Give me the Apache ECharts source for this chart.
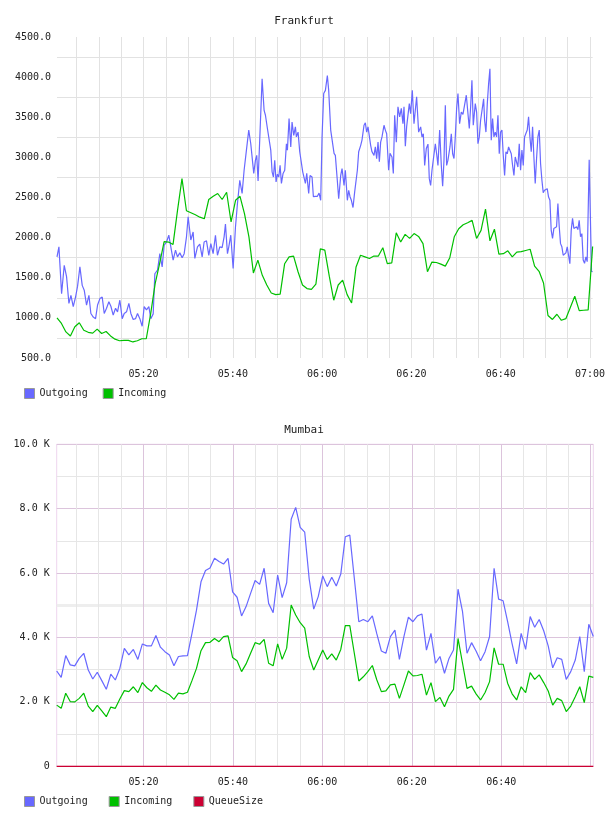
<!DOCTYPE html>
<html><head><meta charset="utf-8">
<script src="https://cdn.jsdelivr.net/npm/echarts@6/dist/echarts.min.js"></script>
<style>html,body{margin:0;padding:0;background:#fff}#c{width:608px;height:816px}</style>
</head><body><div id="c"></div>
<script>
// ---------- DATA ----------
// x values are minutes after 05:00
const X_START = 0.6, X_END = 120.6;
const TOP_X_LABELS = ['05:20','05:40','06:00','06:20','06:40','07:00'];
const BOTTOM_X_LABELS = ['05:20','05:40','06:00','06:20','06:40'];

// Frankfurt – Outgoing (irregular sample times, minutes after 05:00)
const FR_OUT_MIN = [0.6,1.03,1.63,2.22,2.75,3.27,3.72,4.24,4.76,5.21,5.73,6.25,6.70,7.22,7.75,8.19,8.72,9.24,9.69,10.21,10.73,11.18,11.70,12.22,12.67,13.19,13.72,14.16,14.68,15.21,15.66,16.18,16.70,17.15,17.67,18.19,18.64,19.16,19.68,20.13,20.65,21.18,21.62,22.15,22.52,23.12,23.64,24.16,24.61,25.13,25.65,26.10,26.62,27.15,27.59,28.12,28.64,29.09,29.61,29.98,30.58,31.10,31.48,32.07,32.59,33.12,33.56,34.09,34.61,35.06,35.58,36.10,36.55,37.07,37.59,38.04,38.34,38.79,39.09,39.53,40.06,40.58,41.03,41.55,
42.07,42.52,43.04,43.56,44.01,44.31,44.68,45.06,45.35,45.65,46.03,46.55,47.00,47.30,47.74,48.04,48.49,48.79,49.09,49.38,49.68,49.98,50.28,50.58,50.88,51.25,51.62,52.00,52.22,52.59,52.97,53.26,53.64,54.01,54.23,54.61,54.98,55.35,55.65,55.95,56.25,56.55,56.99,57.29,57.74,58.04,58.49,58.94,59.31,59.68,59.98,60.35,60.73,61.17,61.47,61.92,62.22,62.67,62.96,63.34,63.71,64.16,64.46,64.91,65.20,65.65,65.95,66.25,66.55,66.92,67.29,67.59,67.89,68.19,68.64,68.93,69.38,69.68,69.98,70.28,70.58,70.87,71.17,71.62,71.92,72.22,72.52,72.82,73.11,73.41,73.86,74.16,74.46,74.90,75.20,75.65,75.95,76.25,76.62,76.99,77.37,77.74,78.11,78.34,78.64,78.93,79.23,79.53,79.83,80.20,80.58,80.87,81.17,81.62,
82.07,82.37,82.67,82.97,83.34,83.71,84.01,84.31,84.61,84.91,85.36,85.65,85.95,86.33,86.70,87.00,87.30,87.60,87.89,88.19,88.64,88.94,89.24,89.54,89.83,90.13,90.43,90.80,91.18,91.55,91.92,92.30,92.67,92.97,93.27,93.56,93.86,94.31,94.61,94.91,95.21,95.50,95.80,96.18,96.40,96.70,97.00,97.30,97.59,97.89,98.19,98.49,98.79,99.09,99.39,99.68,99.98,100.28,100.58,100.88,101.18,101.47,101.77,102.07,102.37,102.67,102.97,103.26,103.56,103.86,104.16,104.46,104.76,105.06,105.35,105.65,105.95,106.25,106.55,106.85,107.15,107.44,107.74,108.04,108.34,108.64,108.94,109.24,109.53,109.83,110.13,110.43,110.73,111.03,111.32,111.62,111.92,112.22,112.52,112.82,113.12,113.41,113.71,114.01,114.31,114.61,114.91,115.20,115.50,115.80,116.10,116.40,116.70,117.00,117.29,117.59,117.89,118.19,118.49,118.79,119.09,119.38,119.83,120.35,120.6];
const FR_OUT = [1760,1885,1300,1655,1510,1180,1280,1140,1260,1395,1635,1405,1345,1160,1280,1055,1010,990,1160,1240,1260,1055,1120,1200,1145,1035,1120,1075,1220,990,1055,1075,1180,1055,980,990,1055,990,895,1140,1100,1140,990,1050,1550,1595,1800,1635,1905,1945,2030,1885,1720,1845,1760,1810,1750,1800,2010,2260,1970,2070,1740,1885,1920,1760,1945,1960,1780,1925,1800,2030,1780,1885,1875,2010,2170,1800,1885,2030,1615,2130,2425,2715,
2550,2840,3090,3340,3170,3150,2800,2965,3025,2705,3235,3980,3585,3525,3360,3340,3090,2820,2755,2965,2695,2790,2755,2900,2675,2800,2840,3170,3090,3485,3130,3440,3275,3380,3255,3315,3070,3050,2820,2840,2675,2800,2550,2775,2755,2510,2515,2515,2555,2465,3255,3795,3835,4020,3835,3340,3320,3050,3025,2755,2485,2775,2860,2650,2840,2465,2590,2510,2465,2375,2570,2550,2840,3070,3150,3215,3400,3430,3315,3380,3390,3150,3070,3025,3130,2985,3190,2945,3190,3255,3400,3340,3295,2840,3050,3005,2800,3525,3190,3630,3505,3610,3420,3630,3140,3380,3400,3670,3545,3835,3420,3400,3755,3315,
3380,3255,3295,2900,3110,3165,2735,2650,2840,2860,3170,3045,2900,3340,2900,2640,2965,3650,2900,2965,3130,3295,3045,2985,3255,3610,3795,3420,3565,3535,3555,3775,3755,3360,3630,3960,3400,3670,3565,3170,3255,3460,3440,3730,3460,3315,3670,3920,4105,3215,3485,3255,3315,3255,3525,3045,3315,3340,3025,2775,3070,3045,3130,3150,3045,2900,2775,3005,3025,2880,3170,2840,3090,2900,3255,3235,3340,3505,3255,3070,3380,3005,2675,2985,3255,3340,2920,2715,2560,2590,2580,2610,2505,2465,2090,1990,2115,2135,2135,2425,2135,1925,1885,1780,1780,1810,1885,1780,1675,2090,2240,2115,2115,2135,2100,2215,2010,2050,1720,1680,1760,1700,2970,1580,1575];

// Frankfurt – Incoming (one sample per minute from 05:00:36)
const FR_IN = [1000,930,825,775,890,940,845,820,810,860,805,830,775,735,715,720,720,700,715,740,740,1055,1430,1680,1950,1945,1915,2340,2735,2335,2310,2285,2255,2235,2475,2515,2550,2475,2565,2195,2465,
2515,2300,2010,1560,1720,1530,1410,1310,1290,1295,1675,1760,1770,1575,1410,1365,1355,1420,1860,1845,1520,1220,1410,1470,1290,1185,1635,1780,1760,1740,1770,1770,1875,1675,1685,2060,1945,2040,1990,2050,
2015,1925,1575,1695,1690,1670,1645,1750,2010,2110,2160,2185,2215,1990,2090,2355,1960,2105,1795,1800,1835,1760,1820,1825,1840,1855,1645,1580,1435,1030,980,1045,970,990,1130,1270,1090,1095,1100,1890];

// Mumbai (evenly spaced samples between 05:00:36 and 07:00:36)
const MU_OUT = [2960,2760,3440,3150,3120,3350,3510,2990,2710,2920,2660,2390,2860,2680,3040,3660,3460,3630,3320,3800,3740,3740,4060,3700,3560,3460,3120,3410,3430,3440,4130,4850,5730,6080,6160,6460,6360,6280,6460,5420,
5250,4670,4960,5370,5770,5650,6150,5060,4770,5940,5240,5700,7670,8040,7420,7270,5810,4880,5270,5910,5580,5870,5600,5970,7130,7180,5840,4490,4560,4490,4670,4110,3580,3510,4030,4230,3320,4030,4630,4490,4670,
4730,3610,4130,3200,3410,2890,3350,3610,5500,4800,3510,3840,3580,3280,3560,4030,6150,5190,5140,4490,3800,3180,4130,3630,4650,4320,4560,4210,3740,3060,3370,3320,2700,2940,3300,4030,2940,4410,4030];
const MU_IN = [1900,1800,2270,2010,2000,2110,2270,1870,1700,1890,1720,1540,1840,1800,2090,2350,2320,2470,2290,2600,2440,2330,2520,2370,2300,2220,2080,2270,2250,2300,2660,3040,3590,3840,3850,3970,3870,4030,4050,3380,
3280,2940,3180,3510,3840,3790,3940,3200,3120,3800,3320,3670,5010,4700,4460,4290,3410,2990,3300,3610,3320,3490,3300,3630,4370,4370,3510,2650,2780,2940,3130,2680,2320,2340,2530,2550,2110,2530,2960,2810,2820,
2860,2210,2600,2010,2140,1850,2180,2390,3970,3200,2420,2490,2250,2060,2290,2630,3680,3170,3170,2580,2250,2060,2470,2290,2910,2700,2840,2600,2340,1900,2110,2040,1700,1870,2160,2470,1980,2800,2760];
const MU_QUEUE = [0,0,0,0,0,0,0,0,0,0,0,0,0,0,0,0,0,0,0,0,0,0,0,0,0,0,0,0,0,0,0,0,0,0,0,0,0,0,0,0,
0,0,0,0,0,0,0,0,0,0,0,0,0,0,0,0,0,0,0,0,0,0,0,0,0,0,0,0,0,0,0,0,0,0,0,0,0,0,0,0,
0,0,0,0,0,0,0,0,0,0,0,0,0,0,0,0,0,0,0,0,0,0,0,0,0,0,0,0,0,0,0,0,0,0,0,0,0,0,0,0];

// ---------- CHART ----------
const FONT = '"DejaVu Sans Mono", "Liberation Mono", monospace';
const BLUE = '#6868ff', GREEN = '#00c000', RED = '#cc0033';
const TXT = '#222';

const frOutData = FR_OUT_MIN.map((t, i) => [t, FR_OUT[i]]);
const frInData = FR_IN.map((v, i) => [X_START + i, v]);
const muStep = (X_END - X_START) / (MU_OUT.length - 1);
const muPts = arr => arr.map((v, i) => [X_START + i * muStep, v]);

function labelFrom(list) {
  return function (v) {
    const q = v / 20;
    if (Math.abs(q - Math.round(q)) > 1e-6) return '';
    const idx = Math.round(q) - 1;
    return (idx >= 0 && idx < list.length) ? list[idx] : '';
  };
}
const labelStyle = { fontFamily: FONT, fontSize: 10, color: TXT };

const xBase = (gridIndex, list, colors) => ({
  gridIndex, type: 'value', min: X_START, max: X_END, minInterval: 5, maxInterval: 5,
  axisLine: { show: false }, axisTick: { show: false },
  axisLabel: Object.assign({ formatter: labelFrom(list), margin: 11, showMinLabel: true, showMaxLabel: true }, labelStyle),
  splitLine: { show: true, showMinLine: false, showMaxLine: false, lineStyle: { color: colors, width: 1 } }
});

const option = {
  animation: false,
  backgroundColor: '#fff',
  title: [
    { text: 'Frankfurt', left: 'center', top: 16, padding: 0, textStyle: { fontFamily: FONT, fontSize: 11, fontWeight: 'normal', color: TXT } },
    { text: 'Mumbai', left: 'center', top: 425, padding: 0, textStyle: { fontFamily: FONT, fontSize: 11, fontWeight: 'normal', color: TXT } }
  ],
  legend: [
    { top: 388, left: 24, padding: 0, itemWidth: 10, itemHeight: 10, itemGap: 15, icon: 'rect',
      data: ['Outgoing', 'Incoming'], textStyle: labelStyle, itemStyle: { borderColor: '#999', borderWidth: 1 } },
    { top: 796, left: 24, padding: 0, itemWidth: 10, itemHeight: 10, itemGap: 21, icon: 'rect',
      data: ['Outgoing', 'Incoming', 'QueueSize'], textStyle: labelStyle, itemStyle: { borderColor: '#999', borderWidth: 1 } }
  ],
  grid: [
    { left: 57, top: 37, width: 536.3, height: 321, containLabel: false },
    { left: 56.7, top: 444.3, width: 536.6, height: 322, containLabel: false, show: true, borderColor: '#eed5ee', borderWidth: 1, backgroundColor: 'transparent' }
  ],
  xAxis: [
    xBase(0, TOP_X_LABELS, ['#e2e2e2']),
    xBase(1, BOTTOM_X_LABELS, ['#e6e6e6', '#e6e6e6', '#e6e6e6', '#dcc4dc'])
  ],
  yAxis: [
    { gridIndex: 0, type: 'value', min: 500, max: 4500, interval: 500,
      axisLine: { show: false }, axisTick: { show: false },
      axisLabel: Object.assign({ formatter: v => v.toFixed(1), margin: 6 }, labelStyle),
      splitLine: { show: false },
      minorTick: { show: false, splitNumber: 2 },
      minorSplitLine: { show: true, lineStyle: { color: '#e2e2e2', width: 1 } } },
    { gridIndex: 1, type: 'value', min: 0, max: 10000, interval: 2000,
      axisLine: { show: false }, axisTick: { show: false },
      axisLabel: Object.assign({ formatter: v => v === 0 ? '0' : (v / 1000).toFixed(1) + ' K', margin: 7 }, labelStyle),
      splitLine: { show: true, lineStyle: { color: '#dcc4dc', width: 1 } },
      minorTick: { show: false, splitNumber: 2 },
      minorSplitLine: { show: true, lineStyle: { color: '#e6e6e6', width: 1 } } },
    { gridIndex: 1, type: 'value', min: 0, max: 10000, interval: 5000, position: 'right',
      axisLine: { show: false }, axisTick: { show: false }, axisLabel: { show: false },
      splitLine: { show: true, lineStyle: { color: ['rgba(0,0,0,0)', '#eeeeee', 'rgba(0,0,0,0)'], width: 3 } } }
  ],
  series: [
    { name: 'Outgoing', type: 'line', xAxisIndex: 0, yAxisIndex: 0, data: frOutData, symbol: 'none',
      lineStyle: { color: BLUE, width: 1.2 }, itemStyle: { color: BLUE } },
    { name: 'Incoming', type: 'line', xAxisIndex: 0, yAxisIndex: 0, data: frInData, symbol: 'none',
      lineStyle: { color: GREEN, width: 1.2 }, itemStyle: { color: GREEN } },
    { name: 'Outgoing', type: 'line', xAxisIndex: 1, yAxisIndex: 1, data: muPts(MU_OUT), symbol: 'none',
      lineStyle: { color: BLUE, width: 1.2 }, itemStyle: { color: BLUE } },
    { name: 'Incoming', type: 'line', xAxisIndex: 1, yAxisIndex: 1, data: muPts(MU_IN), symbol: 'none',
      lineStyle: { color: GREEN, width: 1.2 }, itemStyle: { color: GREEN } },
    { name: 'QueueSize', type: 'line', xAxisIndex: 1, yAxisIndex: 1, data: muPts(MU_QUEUE), symbol: 'none',
      lineStyle: { color: RED, width: 1.2 }, itemStyle: { color: RED }, clip: false }
  ]
};
const chart = echarts.init(document.getElementById('c'), null, { renderer: 'canvas' });
chart.setOption(option);
</script>
</body></html>
